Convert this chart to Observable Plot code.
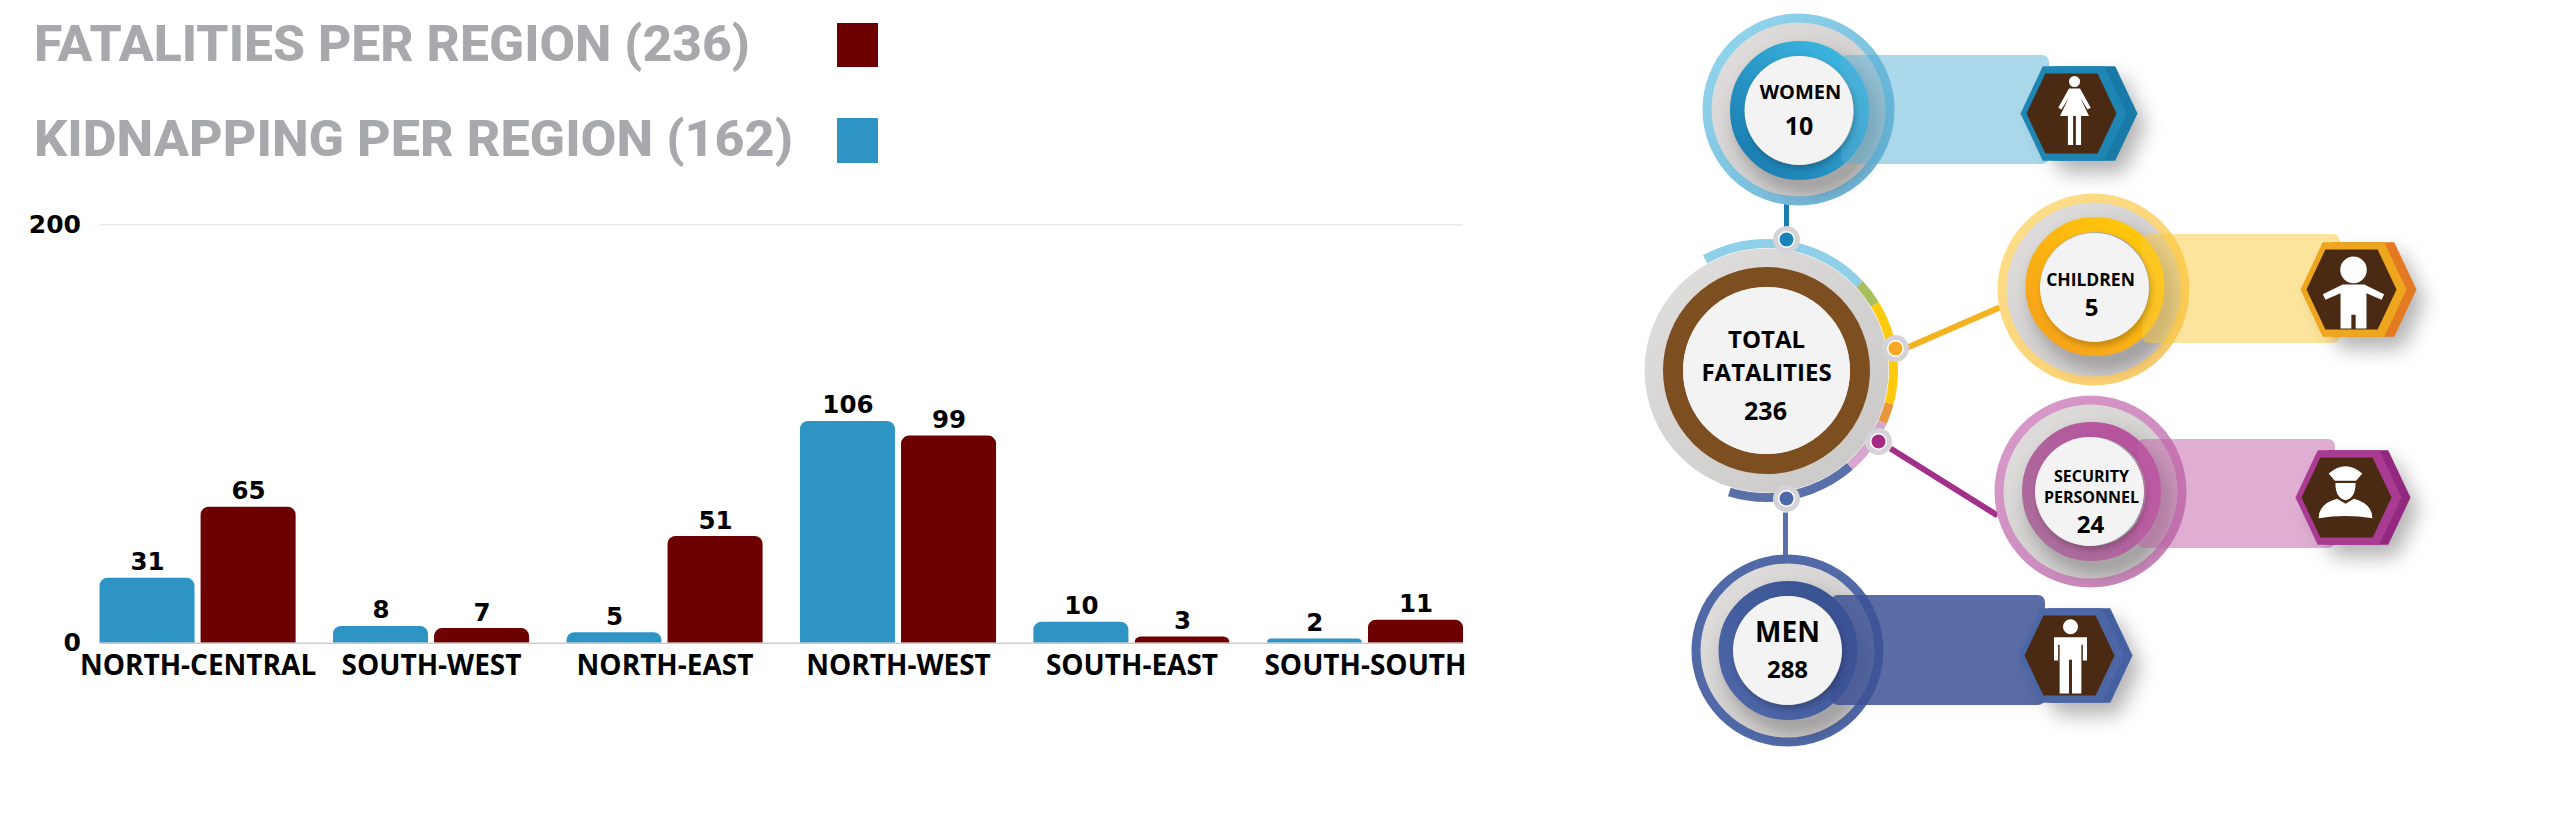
<!DOCTYPE html>
<html><head><meta charset="utf-8">
<script src="https://cdn.jsdelivr.net/npm/d3@7"></script>
<script src="https://cdn.jsdelivr.net/npm/@observablehq/plot@0.6"></script>
<style>
html,body{margin:0;padding:0;background:#fff;width:2560px;height:817px;overflow:hidden}
#root{position:relative;width:2560px;height:817px}
#root>*{position:absolute}
.lg{font:800 50.5px Roboto,sans-serif;color:#a7a9ac;white-space:nowrap;left:33.5px;line-height:60px;transform-origin:left center}
.sw{left:837px;width:41px}
</style></head><body><div id="root"></div>
<script>
// ---- chart data ----
const regions = ["NORTH-CENTRAL","SOUTH-WEST","NORTH-EAST","NORTH-WEST","SOUTH-EAST","SOUTH-SOUTH"];
const kidnapping = [31,8,5,106,10,2];
const fatalities = [65,7,51,99,3,11];
const legendTitles = ["FATALITIES PER REGION (236)","KIDNAPPING PER REGION (162)"];
const yTicks = [0,200];
// ---- infographic data ----
const groupLines = [["WOMEN"],["CHILDREN"],["SECURITY","PERSONNEL"],["MEN"],["TOTAL","FATALITIES"]];
const groupValues = [10,5,24,288,236];

const RED="#6d0000", BLUE="#2e94c4", FONT="'Open Sans',sans-serif", WIDE="'DejaVu Sans',sans-serif";
const rows = regions.flatMap((region,i)=>[
  {region,series:"Kidnapping",value:kidnapping[i]},
  {region,series:"Fatalities",value:fatalities[i]}
]);

const root=document.getElementById("root");
[[0,13.5,RED,23,44,716],[1,108.5,BLUE,118,45,759]].forEach(([i,top,col,st,h,target])=>{
  const t=document.createElement("div");t.className="lg";t.textContent=legendTitles[i];t.style.top=top+"px";root.append(t);
  t.style.transform=`scaleX(${target/t.getBoundingClientRect().width})`;
  const s=document.createElement("div");s.className="sw";s.style.cssText+=`top:${st}px;height:${h}px;background:${col}`;root.append(s);
});

const W=1560,H=720,GAP=37.5;
// horizontal rules: one piece per region, reaching across the gap to the next region
const ruleMarks=(value,stroke)=>[
  Plot.ruleY(regions.slice(0,-1).map(region=>({region,value})),{fx:"region",y:"value",stroke,strokeWidth:1.5,insetRight:-GAP}),
  Plot.ruleY(regions.slice(-1).map(region=>({region,value})),{fx:"region",y:"value",stroke,strokeWidth:1.5})
];
const chart=Plot.plot({
  width:W,height:H,marginLeft:99.5,marginRight:W-1463,marginTop:224.3,marginBottom:H-642.7,
  style:{fontFamily:FONT,background:"transparent",overflow:"visible"},
  fx:{domain:regions,paddingInner:0.16,paddingOuter:0,round:false,label:null},
  x:{domain:["Kidnapping","Fatalities"],paddingInner:0.06,paddingOuter:0,round:false,axis:null},
  y:{domain:[0,200],label:null},
  color:{domain:["Kidnapping","Fatalities"],range:[BLUE,RED]},
  marks:[
    ruleMarks(200,"#e8e8e8"),
    Plot.barY(rows,{fx:"region",x:"series",y:"value",fill:"series",rx1y1:8,rx2y1:8,rx1y2:0,rx2y2:0}),
    ruleMarks(0,"#cccccc"),
    Plot.text(rows,{fx:"region",x:"series",y:"value",text:"value",dy:-8,lineAnchor:"bottom",fontFamily:WIDE,fontSize:24.5,fontWeight:700,fill:"#000"}),
    Plot.axisY({ticks:yTicks,tickSize:0,tickPadding:19,fontFamily:WIDE,fontSize:25,fontWeight:700,fill:"#000",label:null}),
    Plot.axisFx({anchor:"bottom",tickSize:0,tickPadding:12,fontSize:28,fontWeight:700,fill:"#000",label:null})
  ]
});
chart.style.left="0";chart.style.top="0";root.append(chart);

// ---- diagram layout (not data) ----
const nodes=[
 {id:"w",cx:1798,cy:109,ix:1799,iy:110,wx:1798.5,wy:110,bx1:1841,bx2:2049,by1:55,by2:164,bf:"#55afd6",bo:.5,hx:2073,hy:113,hb:2084,hm:"#1f86b4",hd:"#197aa8",o1:"#93d8ef",o2:"#6fb0d3",r1:"#1878ad",r2:"#3fbde6"},
 {id:"c",cx:2093,cy:289,ix:2094.5,iy:286,wx:2094,wy:287,bx1:2142,bx2:2340,by1:234,by2:343,bf:"#fbc93a",bo:.5,hx:2353,hy:289,hb:2363,hm:"#eda61e",hd:"#e37a22",o1:"#fde08c",o2:"#fbcb6c",r1:"#f79f1c",r2:"#ffcc08"},
 {id:"s",cx:2090,cy:491,ix:2091,iy:491,wx:2089,wy:491,bx1:2137,bx2:2335,by1:439,by2:548,bf:"#bf5da6",bo:.5,hx:2348,hy:497,hb:2357,hm:"#a93b92",hd:"#92287f",o1:"#d99bcb",o2:"#c583b6",r1:"#a9719b",r2:"#b94f9f"},
 {id:"m",cx:1787,cy:650,ix:1787.5,iy:650,wx:1787,wy:650,bx1:1831,bx2:2045,by1:595,by2:705,bf:"#3d5296",bo:.85,hx:2071,hy:655,hb:2079,hm:"#4d66a6",hd:"#4560a0",o1:"#5269a8",o2:"#5269a8",r1:"#5068aa",r2:"#35508f"}
];
const total={cx:1766,cy:370};
const arcs=[[241,317,"#8fd0e8"],[317,328.5,"#a8bf5d"],[328.5,375,"#ffc90e"],[375,384,"#e8963c"],[384,409,"#d7a6cf"],[409,467,"#5a70a8"]];
const links=[
 {x1:1786,y1:197,x2:1786,y2:228,s:"#1a7fb0",w:5},
 {x1:1907,y1:347,x2:1999,y2:307,s:"#f5b21f",w:6},
 {x1:1890,y1:448,x2:1997,y2:515,s:"#a2308a",w:6},
 {x1:1785,y1:512,x2:1785,y2:555,s:"#5a70a8",w:5}
];
const joints=[{x:1786,y:239,c:"#1a83b8"},{x:1895,y:348,c:"#f9a825"},{x:1878,y:441,c:"#a52a85"},{x:1786,y:498,c:"#4e69a7"}];
const textPos=[
 [[1800,92.5,20],[1798.5,126,25]],
 [[2090,279.5,17.5],[2091,307.5,24]],
 [[2091,476.5,16],[2091,497,16],[2090,524.5,24]],
 [[1787,633,28],[1787,669.5,24]],
 [[1766,339.5,24],[1766,372.5,24],[1765,411,25]]
];
const labelRows=groupLines.flatMap((lines,i)=>[...lines,String(groupValues[i])].map((t,j)=>({t,x:textPos[i][j][0],y:textPos[i][j][1],size:textPos[i][j][2]})));

const poly=(c,p)=>{p.forEach(([x,y],i)=>i?c.lineTo(x,y):c.moveTo(x,y));c.closePath();};
const unit=f=>({draw(c,size){const r=Math.sqrt(size/Math.PI);f({
  m:(x,y)=>c.moveTo(x*r,y*r),
  p:pts=>poly(c,pts.map(([x,y])=>[x*r,y*r])),
  a:(x,y,q)=>{c.moveTo((x+q)*r,y*r);c.arc(x*r,y*r,q*r,0,2*Math.PI);c.closePath();},
  q:(a,b,x,y)=>c.quadraticCurveTo(a*r,b*r,x*r,y*r),l:(x,y)=>c.lineTo(x*r,y*r),z:()=>c.closePath()
});}});
const hex=unit(d=>d.p([[1,0],[.58,-.89],[-.58,-.89],[-1,0],[-.58,.89],[.58,.89]]));
const woman=unit(d=>{d.a(0,-.84,.16);d.p([[-.16,-.64],[.16,-.64],[.47,-.08],[.38,-.03],[.17,-.36],[.42,.16],[.19,.16],[.19,1],[.04,1],[.04,.16],[-.04,.16],[-.04,1],[-.19,1],[-.19,.16],[-.42,.16],[-.17,-.36],[-.38,-.03],[-.47,-.08]]);});
const man=unit(d=>{d.a(0,-.78,.2);d.p([[-.44,-.5],[.44,-.5],[.44,.12],[.33,.12],[.33,-.3],[.29,-.3],[.29,1],[.04,1],[.04,.1],[-.04,.1],[-.04,1],[-.29,1],[-.29,-.3],[-.33,-.3],[-.33,.12],[-.44,.12]]);});
const child=unit(d=>{d.a(0,-.63,.37);d.p([[-.3,-.22],[.3,-.22],[.85,.05],[.78,.2],[.36,.02],[.36,1],[.06,1],[.06,.62],[-.06,.62],[-.06,1],[-.36,1],[-.36,.02],[-.78,.2],[-.85,.05]]);});
const guard=unit(d=>{
  d.m(-.6,-.68);d.q(0,-1.2,.6,-.68);d.l(.38,-.42);d.l(-.38,-.42);d.z();
  d.m(-.36,-.34);d.l(.36,-.34);d.q(.36,.2,0,.28);d.q(-.36,.2,-.36,-.34);d.z();
  d.m(-.96,.92);d.q(-.95,.38,-.3,.22);d.l(0,.4);d.l(.3,.22);d.q(.95,.38,.96,.92);d.q(0,.76,-.96,.92);d.z();
});
const icons=[[woman,2074,110,34.5],[child,2353,292,36],[guard,2345,492,28],[man,2070,655.5,37.5]];

const defs=()=>{
  const NS="http://www.w3.org/2000/svg",d=document.createElementNS(NS,"defs");
  const grad=(id,a,b,x1,y1,x2,y2)=>{const g=document.createElementNS(NS,"linearGradient");g.id=id;
    Object.entries({x1,y1,x2,y2}).forEach(([k,v])=>g.setAttribute(k,v));
    [[0,a],[1,b]].forEach(([o,c])=>{const s=document.createElementNS(NS,"stop");s.setAttribute("offset",o);s.setAttribute("stop-color",c);g.append(s);});d.append(g);};
  nodes.forEach(n=>{grad("o"+n.id,n.o1,n.o2,0,0,1,1);grad("r"+n.id,n.r1,n.r2,0,1,1,0);});
  grad("gray","#e2dfdf","#c9c6c6",0,0,1,1);
  return d;
};
const C=2*Math.PI*127;
const diagram=Plot.plot({
  width:960,height:817,margin:0,
  style:{fontFamily:FONT,background:"transparent",overflow:"visible"},
  x:{domain:[1600,2560],range:[0,960],axis:null},
  y:{domain:[0,817],range:[0,817],axis:null},
  r:{type:"identity"},color:{type:"identity"},
  marks:[
    defs,
    Plot.link(links,{x1:"x1",y1:"y1",x2:"x2",y2:"y2",stroke:"s",strokeWidth:"w",markerEnd:"none"}),
    arcs.map(([a,b,col])=>Plot.dot([total],{x:"cx",y:"cy",r:127,stroke:col,strokeWidth:9,fill:"none",
      strokeDasharray:`${(b-a)*C/360} ${C-(b-a)*C/360}`,strokeDashoffset:-a*C/360})),
    Plot.dot([total],{x:"cx",y:"cy",r:122,fill:"url(#gray)"}),
    Plot.dot([total],{x:"cx",y:"cy",r:93.5,fill:"none",stroke:"#7d4e1f",strokeWidth:20}),
    Plot.dot([total],{x:"cx",y:"cy",r:83.5,fill:"#f3f3f3"}),
    nodes.map(n=>Plot.dot([n],{x:"cx",y:"cy",r:91.5,fill:"url(#gray)",stroke:`url(#o${n.id})`,strokeWidth:9})),
    nodes.map(n=>Plot.dot([n],{x:"ix",y:"iy",r:62,fill:"none",stroke:`url(#r${n.id})`,strokeWidth:15,imageFilter:"drop-shadow(7px 11px 9px rgba(0,0,0,.32))"})),
    nodes.map(n=>Plot.rect([n],{x1:"bx1",x2:"bx2",y1:"by1",y2:"by2",fill:n.bf,fillOpacity:n.bo,rx:7})),
    nodes.map(n=>Plot.dot([n],{x:"hb",y:"hy",r:53,symbol:hex,fill:n.hd,imageFilter:"drop-shadow(8px 12px 10px rgba(0,0,0,.3))"})),
    nodes.map(n=>Plot.dot([n],{x:"hx",y:"hy",r:53,symbol:hex,fill:n.hm})),
    nodes.map(n=>Plot.dot([n],{x:d=>d.hx-2,y:"hy",r:45,symbol:hex,fill:"#4a2a13"})),
    icons.map(([s,x,y,r])=>Plot.dot([{x,y}],{x:"x",y:"y",r,symbol:s,fill:"#fff"})),
    nodes.map(n=>Plot.dot([n],{x:"wx",y:"wy",r:54.5,fill:"#f3f3f3",imageFilter:"drop-shadow(2px 4px 3px rgba(0,0,0,.22))"})),
    Plot.dot(joints,{x:"x",y:"y",r:11,fill:"#fff",stroke:"#d5d3d8",strokeWidth:5}),
    Plot.dot(joints,{x:"x",y:"y",r:7,fill:"c"}),
    Plot.text(labelRows,{x:"x",y:"y",text:"t",fontSize:"size",fontWeight:700,fill:"#000",lineAnchor:"middle"})
  ]
});
diagram.style.left="1600px";diagram.style.top="0";root.append(diagram);
</script></body></html>
